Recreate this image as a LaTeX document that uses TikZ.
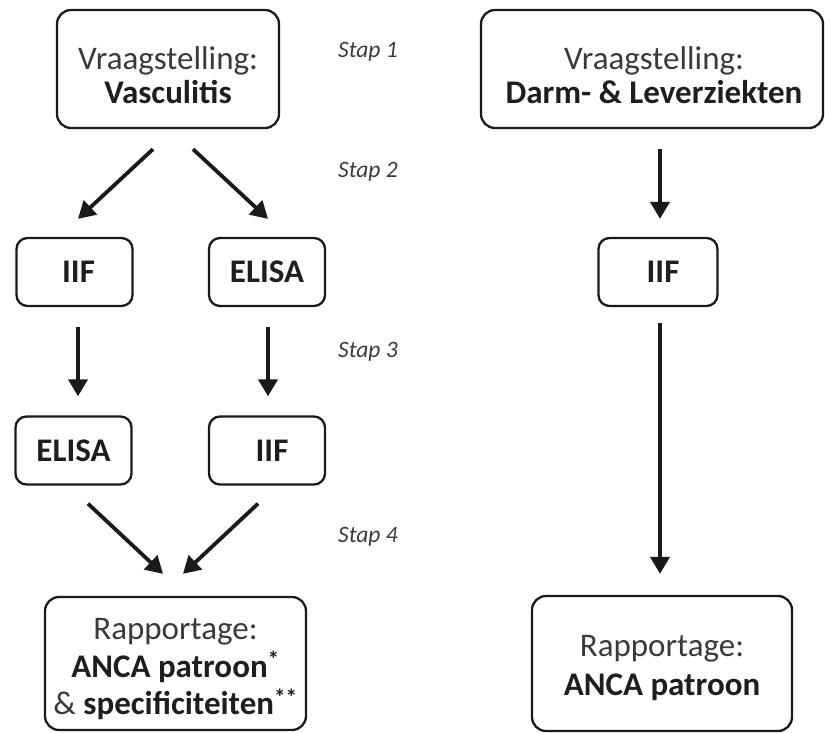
\documentclass[tikz,border=0pt]{standalone}
\usepackage{fontspec}
\setmainfont{Carlito}
\usetikzlibrary{arrows.meta}
\definecolor{txt}{HTML}{3A3A3A}
\definecolor{btxt}{HTML}{1E1E1E}
\definecolor{stp}{HTML}{3C3C3C}
\definecolor{ln}{HTML}{1A1A1A}
\tikzset{
  box/.style={draw=ln, line width=2.3pt, rounded corners=14pt, inner sep=0pt, align=center,
    text=txt, font=\fontsize{33}{34}\selectfont},
  smallbox/.style={box, rounded corners=11pt, minimum width=116pt, minimum height=68pt,
    font=\fontsize{33}{34}\selectfont\bfseries, text=btxt},
  arr/.style={draw=ln, line width=3.8pt, -{Triangle[length=17pt,width=19pt]}},
  stap/.style={anchor=west, inner sep=0pt, text=stp, font=\fontsize{23.5}{26}\selectfont\itshape}
}
\newcommand{\bt}[1]{{\bfseries\color{btxt}#1}}
\begin{document}
\begin{tikzpicture}[x=1pt,y=-1pt]
\useasboundingbox (0,0) rectangle (825,732);
% top boxes
\node[box, minimum width=222pt, minimum height=118pt] (v1) at (168,69) {};
\node[inner sep=0pt, align=center, text=txt, font=\fontsize{33}{34}\selectfont] (v1t) at (168,75) {Vraagstelling:\\\bt{Vasculitis}};
\node[box, minimum width=342pt, minimum height=118pt] (d1) at (652,69) {};
\node[inner sep=0pt, align=center, text=txt, font=\fontsize{33}{34}\selectfont] (d1t) at (654,75) {Vraagstelling:\\\bt{Darm- \& Leverziekten}};
% row 2
\node[smallbox] (iifL) at (74.5,272) {\hspace*{8pt}IIF};
\node[smallbox] (elisaR) at (267,272) {ELISA};
\node[smallbox, minimum width=119pt] (iifD) at (658,272) {\hspace*{10pt}IIF};
% row 3
\node[smallbox] (elisaL) at (73.5,450.5) {ELISA};
\node[smallbox] (iifR) at (267,450.5) {\hspace*{10pt}IIF};
% bottom boxes
\node[box, minimum width=261pt, minimum height=133pt] (rL) at (175.5,663.5) {};
\node[inner sep=0pt, align=center, text=txt, font=\fontsize{33}{37.5}\selectfont] (rLt) at (175.5,669)
  {Rapportage:\\\bt{ANCA patroon\textsuperscript{*}}\\\&\ \bt{specificiteiten\textsuperscript{**}}};
\node[box, minimum width=260pt, minimum height=135pt] (rR) at (662,663.5) {};
\node[inner sep=0pt, align=center, text=txt, font=\fontsize{33}{39}\selectfont] (rRt) at (662,668)
  {Rapportage:\\\bt{ANCA patroon}};
% step labels
\node[stap] (s1) at (338,52) {Stap 1};
\node[stap] (s2) at (338,172) {Stap 2};
\node[stap] (s3) at (338,352) {Stap 3};
\node[stap] (s4) at (338,537) {Stap 4};
% arrows
\draw[arr] ([shift={(-15,20)}]v1.south) -- ([shift={(3.5,-18)}]iifL.north);
\draw[arr] ([shift={(25,20)}]v1.south) -- ([shift={(1,-18)}]elisaR.north);
\draw[arr] ([shift={(8,20)}]d1.south) -- ([shift={(2,-18)}]iifD.north);
\draw[arr] ([shift={(3.5,20)}]iifL.south) -- ([shift={(4.5,-19)}]elisaL.north);
\draw[arr] ([shift={(1,20)}]elisaR.south) -- ([shift={(1,-19)}]iifR.north);
\draw[arr] ([shift={(2,16)}]iifD.south) -- ([shift={(-2,-21)}]rR.north);
\draw[arr] ([shift={(14.5,18)}]elisaL.south) -- ([shift={(-12.5,-22)}]rL.north);
\draw[arr] ([shift={(-9,18)}]iifR.south) -- ([shift={(7.5,-22)}]rL.north);
\end{tikzpicture}
\end{document}
